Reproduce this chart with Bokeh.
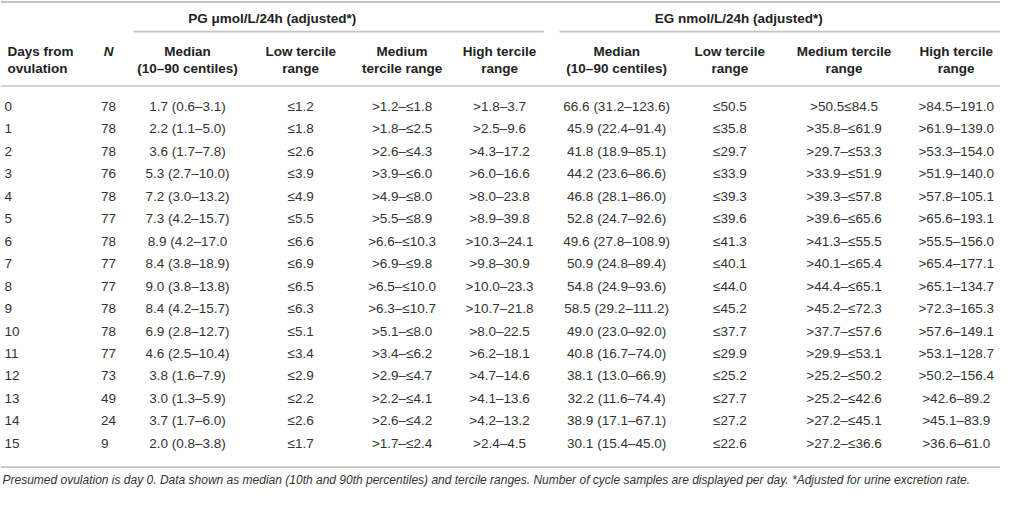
from bokeh.plotting import figure
from bokeh.models import ColumnDataSource, Range1d
from bokeh.core.properties import value
from bokeh.embed import file_html
from bokeh.resources import INLINE

# ---------------- data ----------------
days = ["0", "1", "2", "3", "4", "5", "6", "7", "8", "9", "10", "11", "12", "13", "14", "15"]
n_samples = ["78", "78", "78", "76", "78", "77", "78", "77", "77", "78", "78", "77", "73", "49", "24", "9"]

pg_median = ["1.7 (0.6–3.1)", "2.2 (1.1–5.0)", "3.6 (1.7–7.8)", "5.3 (2.7–10.0)", "7.2 (3.0–13.2)",
             "7.3 (4.2–15.7)", "8.9 (4.2–17.0", "8.4 (3.8–18.9)", "9.0 (3.8–13.8)", "8.4 (4.2–15.7)",
             "6.9 (2.8–12.7)", "4.6 (2.5–10.4)", "3.8 (1.6–7.9)", "3.0 (1.3–5.9)", "3.7 (1.7–6.0)",
             "2.0 (0.8–3.8)"]
pg_low = ["≤1.2", "≤1.8", "≤2.6", "≤3.9", "≤4.9", "≤5.5", "≤6.6", "≤6.9", "≤6.5", "≤6.3",
          "≤5.1", "≤3.4", "≤2.9", "≤2.2", "≤2.6", "≤1.7"]
pg_mid = [">1.2–≤1.8", ">1.8–≤2.5", ">2.6–≤4.3", ">3.9–≤6.0", ">4.9–≤8.0", ">5.5–≤8.9",
          ">6.6–≤10.3", ">6.9–≤9.8", ">6.5–≤10.0", ">6.3–≤10.7", ">5.1–≤8.0", ">3.4–≤6.2",
          ">2.9–≤4.7", ">2.2–≤4.1", ">2.6–≤4.2", ">1.7–≤2.4"]
pg_high = [">1.8–3.7", ">2.5–9.6", ">4.3–17.2", ">6.0–16.6", ">8.0–23.8", ">8.9–39.8",
           ">10.3–24.1", ">9.8–30.9", ">10.0–23.3", ">10.7–21.8", ">8.0–22.5", ">6.2–18.1",
           ">4.7–14.6", ">4.1–13.6", ">4.2–13.2", ">2.4–4.5"]

eg_median = ["66.6 (31.2–123.6)", "45.9 (22.4–91.4)", "41.8 (18.9–85.1)", "44.2 (23.6–86.6)",
             "46.8 (28.1–86.0)", "52.8 (24.7–92.6)", "49.6 (27.8–108.9)", "50.9 (24.8–89.4)",
             "54.8 (24.9–93.6)", "58.5 (29.2–111.2)", "49.0 (23.0–92.0)", "40.8 (16.7–74.0)",
             "38.1 (13.0–66.9)", "32.2 (11.6–74.4)", "38.9 (17.1–67.1)", "30.1 (15.4–45.0)"]
eg_low = ["≤50.5", "≤35.8", "≤29.7", "≤33.9", "≤39.3", "≤39.6", "≤41.3", "≤40.1", "≤44.0", "≤45.2",
          "≤37.7", "≤29.9", "≤25.2", "≤27.7", "≤27.2", "≤22.6"]
eg_mid = [">50.5≤84.5", ">35.8–≤61.9", ">29.7–≤53.3", ">33.9–≤51.9", ">39.3–≤57.8", ">39.6–≤65.6",
          ">41.3–≤55.5", ">40.1–≤65.4", ">44.4–≤65.1", ">45.2–≤72.3", ">37.7–≤57.6", ">29.9–≤53.1",
          ">25.2–≤50.2", ">25.2–≤42.6", ">27.2–≤45.1", ">27.2–≤36.6"]
eg_high = [">84.5–191.0", ">61.9–139.0", ">53.3–154.0", ">51.9–140.0", ">57.8–105.1", ">65.6–193.1",
           ">55.5–156.0", ">65.4–177.1", ">65.1–134.7", ">72.3–165.3", ">57.6–149.1", ">53.1–128.7",
           ">50.2–156.4", ">42.6–89.2", ">45.1–83.9", ">36.6–61.0"]

group_titles = ["PG μmol/L/24h (adjusted*)", "EG nmol/L/24h (adjusted*)"]
col_headers_1 = ["Days from", "N", "Median", "Low tercile", "Medium", "High tercile",
                 "Median", "Low tercile", "Medium tercile", "High tercile"]
col_headers_2 = ["ovulation", "", "(10–90 centiles)", "range", "tercile range", "range",
                 "(10–90 centiles)", "range", "range", "range"]
footnote = ("Presumed ovulation is day 0. Data shown as median (10th and 90th percentiles) and tercile "
            "ranges. Number of cycle samples are displayed per day. *Adjusted for urine excretion rate.")

# ---------------- layout ----------------
FONT = value("Liberation Sans")
HEAD_C = "#222222"
TXT = "#333333"
RULE = "#c4c4c4"
SIZE = "13.5px"

col_x = [4, 102, 190, 305, 408, 507, 626, 741, 857, 971]
col_align = ["left", "left", "center", "center", "center", "center", "center", "center", "center", "center"]
row_y0, row_dy = 111, 23.1

p = figure(width=1000, height=490, output_backend="svg", toolbar_location=None,
           x_range=Range1d(0, 1016), y_range=Range1d(506, 2),
           x_axis_type=None, y_axis_type=None, min_border=0,
           background_fill_color="white", border_fill_color="white")
p.outline_line_color = None
p.grid.visible = False

# rules
rules = ColumnDataSource(dict(x0=[0, 0, 0], x1=[1016, 1016, 1016], y=[3.5, 90, 482], w=[2, 1.6, 1.6]))
p.segment(x0="x0", x1="x1", y0="y", y1="y", line_width="w", line_color=RULE, source=rules)
grules = ColumnDataSource(dict(x0=[135, 568], x1=[552, 1016], y=[34, 34]))
p.segment(x0="x0", x1="x1", y0="y", y1="y", line_width=1.6, line_color=RULE, source=grules)

# group titles
p.text(x=[276, 750], y=[21, 21], text=group_titles, text_align="center", text_baseline="middle",
       text_font=FONT, text_font_size=SIZE, text_font_style="bold", text_color=HEAD_C)

# column headers
for i, (h1, h2) in enumerate(zip(col_headers_1, col_headers_2)):
    style = "bold italic" if h1 == "N" else "bold"
    hx = col_x[i] + (3 if i < 2 else 0)
    p.text(x=[hx], y=[54], text=[h1], text_align=col_align[i],
           text_baseline="middle", text_font=FONT, text_font_size=SIZE, text_font_style=style,
           text_color=HEAD_C)
    if h2:
        p.text(x=[hx], y=[72], text=[h2], text_align=col_align[i], text_baseline="middle",
               text_font=FONT, text_font_size=SIZE, text_font_style="bold", text_color=HEAD_C)

# body
columns = [days, n_samples, pg_median, pg_low, pg_mid, pg_high, eg_median, eg_low, eg_mid, eg_high]
ys = [row_y0 + k * row_dy for k in range(len(days))]
for i, col in enumerate(columns):
    src = ColumnDataSource(dict(x=[col_x[i]] * len(col), y=ys, t=col))
    p.text(x="x", y="y", text="t", source=src, text_align=col_align[i], text_baseline="middle",
           text_font=FONT, text_font_size=SIZE, text_color=TXT)

# footnote
p.text(x=[2], y=[495], text=[footnote], text_align="left", text_baseline="middle",
       text_font=FONT, text_font_size="12px", text_font_style="italic", text_color=TXT)

open("out.html", "w").write(file_html(p, INLINE))
